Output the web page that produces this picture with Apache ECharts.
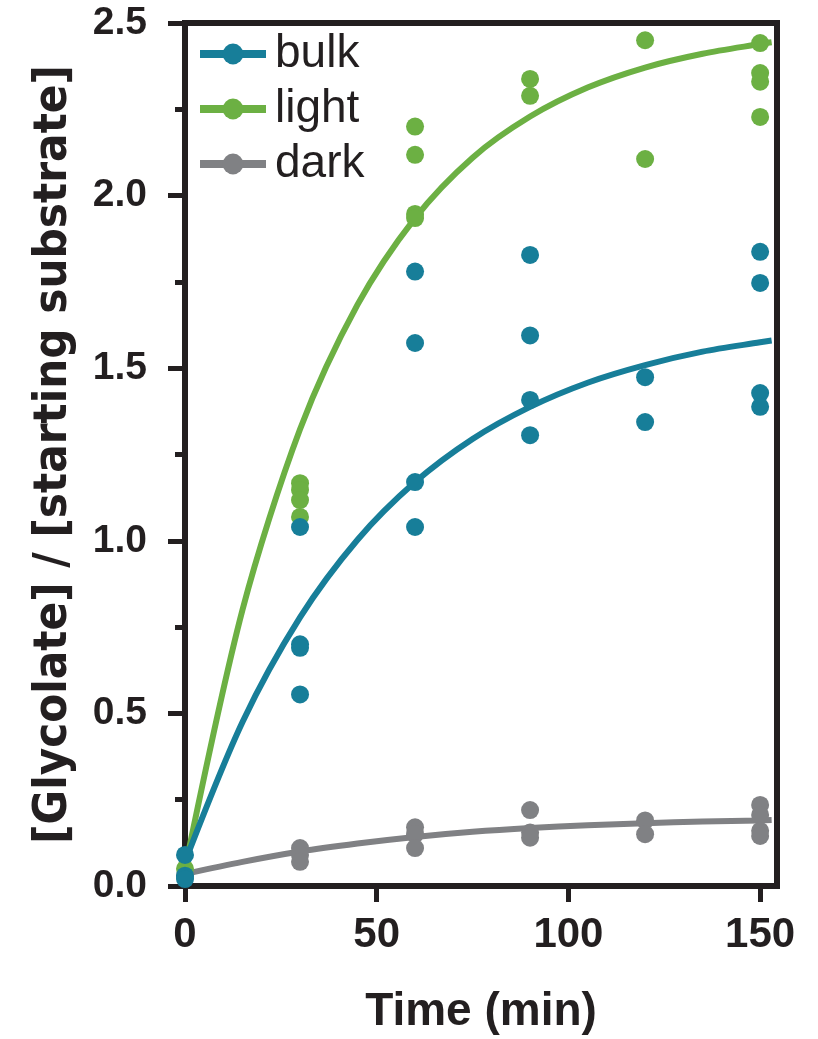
<!DOCTYPE html>
<html>
<head>
<meta charset="utf-8">
<script src="https://cdn.jsdelivr.net/npm/echarts@6/dist/echarts.min.js"></script>
<style>
html,body{margin:0;padding:0;background:#fff;}
#chart{width:818px;height:1039px;}
</style>
</head>
<body>
<div id="chart"></div>
<script>
// ---- data ----
const seriesNames = ['bulk', 'light', 'dark'];
const xTicks = [0, 50, 100, 150];

// fitted curves
const curveTime = [0, 15, 30, 45, 60, 75, 90, 105, 120, 135, 150, 153];
const bulkFit  = [0.07, 0.475, 0.778, 1.003, 1.17, 1.295, 1.388, 1.458, 1.509, 1.548, 1.575, 1.58];
const lightFit = [0.05, 0.80, 1.323, 1.684, 1.935, 2.11, 2.229, 2.313, 2.371, 2.411, 2.439, 2.444];
const darkFit  = [0.035, 0.07, 0.10, 0.123, 0.142, 0.157, 0.168, 0.176, 0.182, 0.187, 0.19, 0.191];

// replicate measurements
const bulkTime  = [0, 0, 0, 30, 30, 30, 30, 60, 60, 60, 60, 90, 90, 90, 90, 120, 120, 150, 150, 150, 150];
const bulkVals  = [0.09, 0.03, 0.02, 1.04, 0.70, 0.69, 0.555, 1.78, 1.573, 1.17, 1.04, 1.828, 1.595, 1.408, 1.306, 1.474, 1.344, 1.837, 1.747, 1.428, 1.388];
const lightTime = [0, 30, 30, 30, 30, 60, 60, 60, 60, 90, 90, 120, 120, 150, 150, 150, 150];
const lightVals = [0.05, 1.167, 1.147, 1.118, 1.069, 2.20, 2.118, 1.947, 1.935, 2.338, 2.289, 2.45, 2.106, 2.442, 2.355, 2.33, 2.228];
const darkTime  = [0, 30, 30, 30, 60, 60, 60, 90, 90, 90, 120, 120, 150, 150, 150, 150];
const darkVals  = [0.03, 0.11, 0.09, 0.07, 0.17, 0.15, 0.11, 0.22, 0.155, 0.14, 0.19, 0.15, 0.235, 0.206, 0.16, 0.145];

const colors = { bulk: '#177e99', light: '#6cb043', dark: '#808184' };
const ink = '#231f20';

function pairs(xs, ys) { return xs.map((x, i) => [x, ys[i]]); }

const chart = echarts.init(document.getElementById('chart'), null, { renderer: 'canvas' });

function lineSeries(name, vals, z) {
  return {
    name: name, type: 'line', data: pairs(curveTime, vals), smooth: 0.3,
    symbol: 'circle', symbolSize: 16, showSymbol: false,
    lineStyle: { width: 6, color: colors[name] }, itemStyle: { color: colors[name] },
    z: z, silent: true
  };
}
function scatterSeries(name, xs, ys, z) {
  return {
    name: name, type: 'scatter', data: pairs(xs, ys), symbol: 'circle', symbolSize: 18,
    itemStyle: { color: colors[name], opacity: 1 }, z: z, silent: true
  };
}

chart.setOption({
  animation: false,
  backgroundColor: '#fff',
  grid: { left: 185, right: 41, top: 23, bottom: 153, containLabel: false, outerBoundsMode: 'none',
          show: true, borderColor: ink, borderWidth: 6, backgroundColor: 'transparent' },
  legend: {
    data: seriesNames, orient: 'vertical', left: 191, top: 26,
    itemWidth: 66, itemHeight: 26, itemGap: 9,
    lineStyle: { width: 8 },
    textStyle: { fontFamily: 'Liberation Sans, Arial, sans-serif', fontSize: 46, color: ink, lineHeight: 46, padding: [0, 0, 0, 4] }
  },
  xAxis: {
    type: 'value', min: 0, max: 154.4,
    name: 'Time (min)', nameLocation: 'middle', nameGap: 103,
    nameTextStyle: { fontFamily: 'Liberation Sans, Arial, sans-serif', fontWeight: 'bold', fontSize: 46, color: ink },
    axisLine: { show: true, lineStyle: { color: ink, width: 6 } },
    axisTick: { show: true, length: 16, inside: false, customValues: xTicks, lineStyle: { color: ink, width: 5 } },
    axisLabel: { customValues: xTicks, margin: 28, fontFamily: 'Liberation Sans, Arial, sans-serif', fontWeight: 'bold', fontSize: 42, color: ink },
    splitLine: { show: false }
  },
  yAxis: {
    type: 'value', min: 0, max: 2.5, interval: 0.5,
    name: '[Glycolate] / [starting substrate]', nameLocation: 'middle', nameGap: 108, nameRotate: 90,
    nameTextStyle: { fontFamily: "'Liberation Sans Narrow', 'DejaVu Sans Condensed', sans-serif", fontWeight: 'bold', fontSize: 47, color: ink },
    axisLine: { show: true, lineStyle: { color: ink, width: 6 } },
    axisTick: { show: true, length: 17, lineStyle: { color: ink, width: 5 } },
    minorTick: { show: true, splitNumber: 2, length: 10, lineStyle: { color: ink, width: 5 } },
    axisLabel: { margin: 38, formatter: v => v.toFixed(1), fontFamily: 'Liberation Sans, Arial, sans-serif', fontWeight: 'bold', fontSize: 39, color: ink },
    splitLine: { show: false }
  },
  series: [
    lineSeries('dark', darkFit, 2),
    scatterSeries('dark', darkTime, darkVals, 3),
    lineSeries('light', lightFit, 4),
    scatterSeries('light', lightTime, lightVals, 5),
    lineSeries('bulk', bulkFit, 6),
    scatterSeries('bulk', bulkTime, bulkVals, 7)
  ]
});
</script>
</body>
</html>
